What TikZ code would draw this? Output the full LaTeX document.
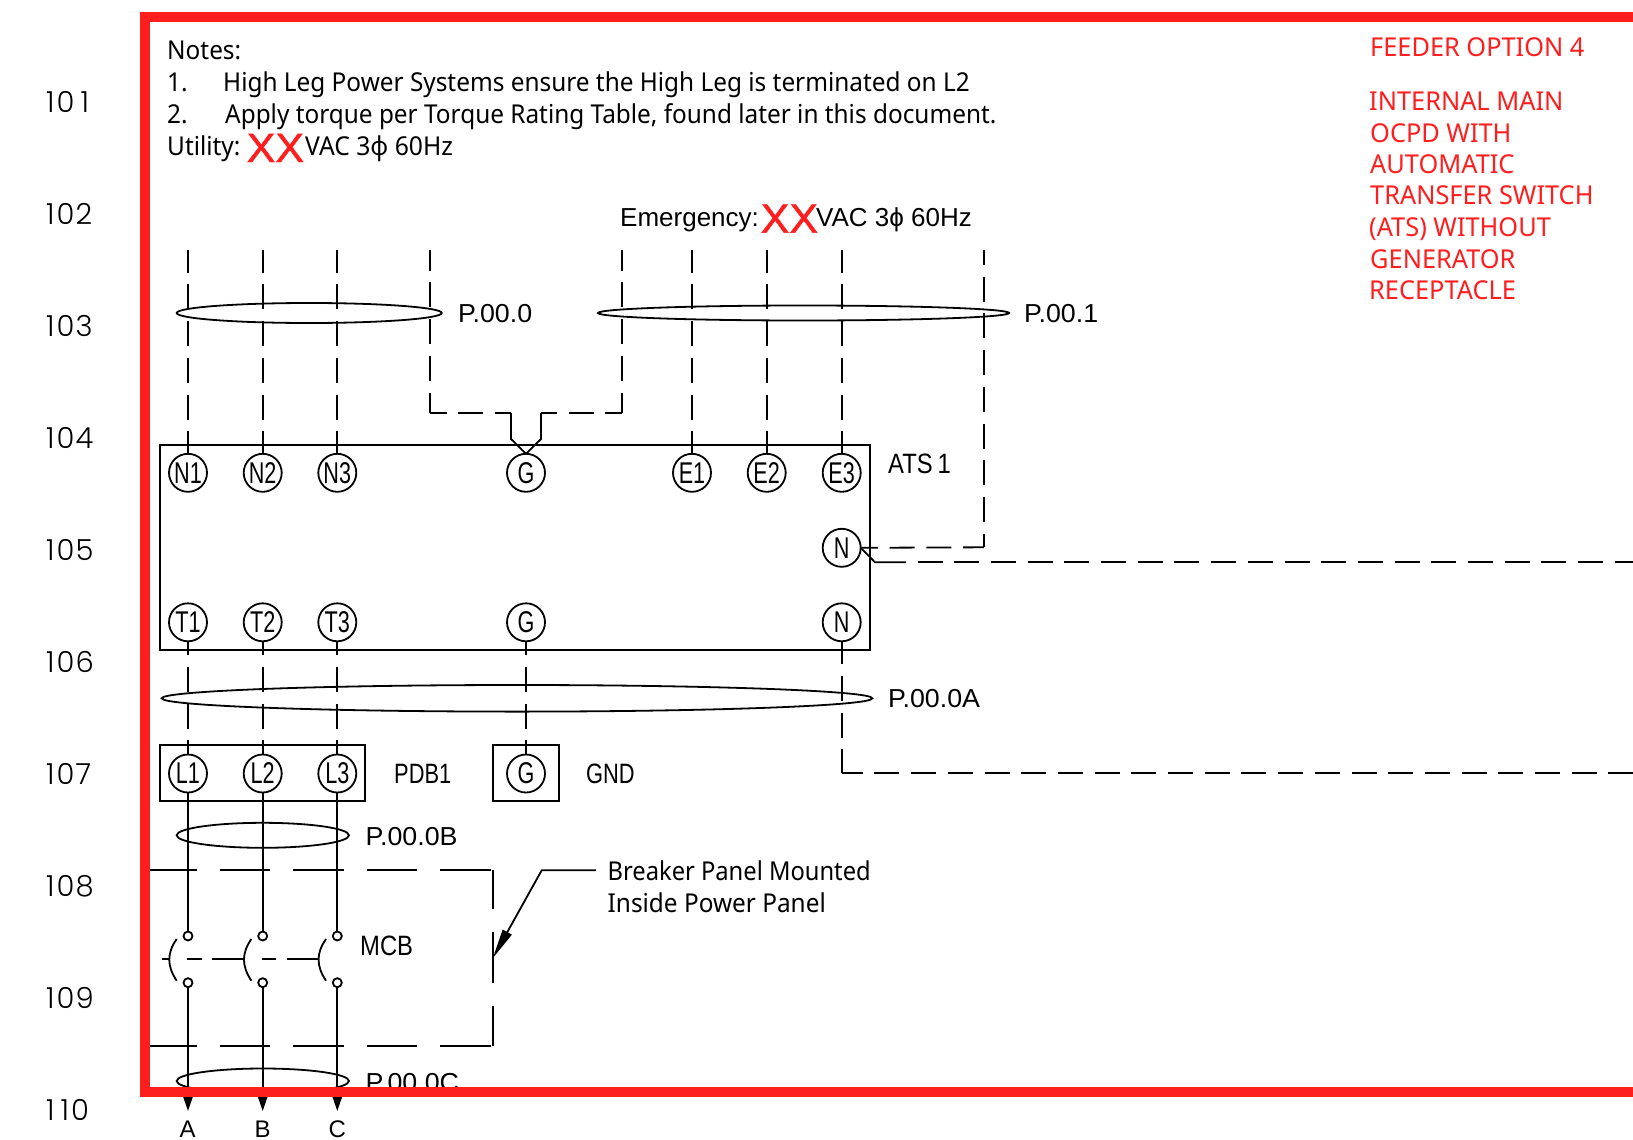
\documentclass[tikz,border=0pt]{standalone}
\usepackage{fontspec}
\usetikzlibrary{arrows.meta,shapes.geometric}
\setmainfont{Liberation Sans}
\newfontfamily\notefont[FakeStretch=0.937]{Noto Sans}
\newfontfamily\notenarrow[FakeStretch=0.912]{Noto Sans}
\newfontfamily\utilfont[FakeStretch=0.95]{Noto Sans}
\newfontfamily\capsfont[FakeStretch=0.975]{Noto Sans}
\newfontfamily\arialfont{Liberation Sans}
\newfontfamily\tagfont[FakeStretch=1.03]{Liberation Sans}
\newfontfamily\xfont[FakeStretch=1.05,FakeBold=1.2]{Liberation Sans}
\newfontfamily\cadfont[FakeStretch=0.72]{Liberation Sans}
\newfontfamily\cadmid[FakeStretch=0.78]{Liberation Sans}
\newfontfamily\cadwide[FakeStretch=0.85]{Liberation Sans}
\newfontfamily\rowfont{Poppins Light}
\definecolor{framered}{HTML}{FF1E1E}
\tikzset{
  x=1pt,y=-1pt,
  inkline/.style={line width=1.8pt,black,line cap=butt,line join=miter},
  wiredash/.style={inkline,dash pattern=on 25pt off 11.7pt},
  longdash/.style={inkline,dash pattern=on 50.5pt off 23pt},
  term/.style={circle,draw,line width=1.8pt,outer sep=0pt,minimum size=38pt,inner sep=0pt,font=\cadfont\fontsize{30}{30}\selectfont},
  contact/.style={circle,draw,fill=white,line width=1.8pt,outer sep=0pt,minimum size=9pt,inner sep=0pt},
  bundle/.style={ellipse,draw,line width=1.8pt,outer sep=0pt,inner sep=0pt,fill=none},
  encl/.style={rectangle,draw,line width=1.8pt,outer sep=0pt,inner sep=0pt,anchor=north west},
  notetext/.style={anchor=base west,inner sep=0pt,font=\notefont\fontsize{26}{30}\selectfont},
  brktext/.style={anchor=base west,inner sep=0pt,font=\notenarrow\fontsize{26}{30}\selectfont},
  utiltext/.style={anchor=base west,inner sep=0pt,font=\utilfont\fontsize{26}{30}\selectfont},
  redtext/.style={anchor=base west,inner sep=0pt,text=framered,font=\capsfont\fontsize{26}{30}\selectfont},
  emertext/.style={anchor=base west,inner sep=0pt,font=\arialfont\fontsize{26}{30}\selectfont},
  wiretag/.style={anchor=base west,inner sep=0pt,font=\tagfont\fontsize{26}{30}\selectfont},
  endlabel/.style={anchor=base west,inner sep=0pt,font=\arialfont\fontsize{24}{30}\selectfont},
  cadtag/.style={anchor=base west,inner sep=0pt,font=\cadmid\fontsize{28}{30}\selectfont},
  cadwidetag/.style={anchor=base west,inner sep=0pt,font=\cadwide\fontsize{28}{30}\selectfont},
  rowno/.style={anchor=base west,inner sep=0pt,font=\rowfont\fontsize{29}{30}\selectfont},
  xmark/.style={anchor=base west,inner sep=0pt,text=framered,font=\xfont\fontsize{41}{41}\selectfont},
  endtip/.style={-{Triangle[length=16pt,width=10.5pt]}},
  leadtip/.style={-{Triangle[length=30pt,width=10pt]}}
}
\begin{document}
\begin{tikzpicture}
\useasboundingbox (0,0) rectangle (1633,1140);
\fill[white] (0,0) rectangle (1633,1140);

% row numbers
\node[rowno] (row101) at (46,112.5) {1\kern2pt 0\kern6pt 1};
\node[rowno] (row102) at (46,224.3) {1\kern2pt 0\kern1pt 2};
\node[rowno] (row103) at (46,336) {1\kern2pt 0\kern1pt 3};
\node[rowno] (row104) at (46,448) {1\kern2pt 0\kern1pt 4};
\node[rowno] (row105) at (46,560) {1\kern2pt 0\kern1pt 5};
\node[rowno] (row106) at (46,672.5) {1\kern2pt 0\kern1pt 6};
\node[rowno] (row107) at (46,784.5) {1\kern2pt 0\kern1pt 7};
\node[rowno] (row108) at (46,896.5) {1\kern2pt 0\kern1pt 8};
\node[rowno] (row109) at (46,1008.5) {1\kern2pt 0\kern1pt 9};
\node[rowno] (row110) at (46,1120.5) {1\kern6pt 1\kern2pt 0};

% notes
\node[notetext] (notes) at (167,59.7) {Notes:};
\node[notetext] (n1no) at (167,91.7) {1.};
\node[notetext] (n1tx) at (223,91.7) {High Leg Power Systems ensure the High Leg is terminated on L2};
\node[notetext] (n2no) at (167,123.7) {2.};
\node[notetext] (n2tx) at (225,123.7) {Apply torque per Torque Rating Table, found later in this document.};
\node[notetext] (util) at (167,155.5) {Utility:};
\node[xmark] (utilx) at (246.5,162) {XX};
\node[utiltext] (utilv) at (305,155.5) {VAC 3ϕ 60Hz};

\node[emertext] (emer) at (620,226) {Emergency:};
\node[xmark] (emerx) at (760.5,232.7) {XX};
\node[emertext] (emerv) at (816,226) {VAC 3ϕ 60Hz};

% red notes
\node[redtext] (r0) at (1370,56.5) {FEEDER OPTION 4};
\node[redtext] (r1) at (1369,110.5) {INTERNAL MAIN};
\node[redtext] (r2) at (1370,142.2) {OCPD WITH};
\node[redtext] (r3) at (1370,173.2) {AUTOMATIC};
\node[redtext] (r4) at (1370,204.5) {TRANSFER SWITCH};
\node[redtext] (r5) at (1369,236.5) {(ATS) WITHOUT};
\node[redtext] (r6) at (1370,268.2) {GENERATOR};
\node[redtext] (r7) at (1369,299.8) {RECEPTACLE};

% enclosures
\node[encl,minimum width=709.7pt,minimum height=205.3pt] (ats) at (160,445) {};
\node[encl,minimum width=205.3pt,minimum height=56pt] (pdb) at (160,745) {};
\node[encl,minimum width=66pt,minimum height=56pt] (gnd) at (492.7,745) {};

% terminals
\node[term] (N1) at (188,472.8) {N1};
\node[term] (N2) at (262.7,472.8) {N2};
\node[term] (N3) at (337.3,472.8) {N3};
\node[term] (Gt) at (526,472.8) {G};
\node[term] (E1) at (692,472.8) {E1};
\node[term] (E2) at (766.7,472.8) {E2};
\node[term] (E3) at (841.7,472.8) {E3};
\node[term] (Nm) at (841.7,547.8) {N};
\node[term] (T1) at (188,622.3) {T1};
\node[term] (T2) at (262.7,622.3) {T2};
\node[term] (T3) at (337.3,622.3) {T3};
\node[term] (Gb) at (526,622.3) {G};
\node[term] (Nb) at (841.7,622.3) {N};
\node[term] (L1) at (188,773.5) {L1};
\node[term] (L2) at (262.7,773.5) {L2};
\node[term] (L3) at (337.3,773.5) {L3};
\node[term] (Gg) at (526,773.5) {G};

% free wire ends
\foreach \n/\xx in {a/188,b/262.7,c/337.3,d/430,f/622,g/692,h/766.7,i/841.7}
  \coordinate (top\n) at (\xx,250);
\coordinate (top5) at (984,250);
\coordinate (cd) at (430,413);
\coordinate (cf) at (622,413);
\coordinate (vl) at (511,413);
\coordinate (vr) at (541,413);
\coordinate (vl2) at (511,439);
\coordinate (vr2) at (541,439);
\coordinate (c5) at (984,547.3);
\coordinate (ntk) at (875,562.3);
\coordinate (nts) at (906,562.3);
\coordinate (ntr) at (1640,562.3);
\coordinate (lnc) at (841.7,773.3);
\coordinate (lnr) at (1640,773.3);

% supply wires
\foreach \n/\t in {a/N1,b/N2,c/N3,g/E1,h/E2,i/E3}
  \draw[wiredash,dash phase=2.3pt] (top\n) -- (\t);
\draw[wiredash,dash phase=4.3pt] (topd) -- (cd);
\draw[wiredash,dash phase=4.3pt] (topf) -- (cf);
\draw[wiredash,dash phase=8.3pt] (cd) -- (vl);
\draw[wiredash,dash phase=8.3pt] (cf) -- (vr);
\draw[inkline] (vl) -- (vl2) -- (Gt.north);
\draw[inkline] (vr) -- (vr2) -- (Gt.north);
\draw[wiredash,dash phase=10pt] (top5) -- (c5);
\draw[wiredash,dash phase=4pt] (c5) -- (Nm.east);
\draw[inkline] (Nm.east) -- (ntk) -- (nts);
\draw[wiredash] (nts) ++(11.5,0) -- (ntr);

% ATS to PDB
\foreach \a/\b in {T1/L1,T2/L2,T3/L3,Gb/Gg}
  \draw[wiredash,dash phase=11pt] (\a) -- (\b);
\draw[wiredash,dash phase=2pt] (Nb) -- (lnc);
\draw[wiredash,dash phase=4pt] (lnc) -- (lnr);

% breaker contacts
\foreach \i/\xx in {1/188,2/262.7,3/337.3}{
  \node[contact] (ct\i) at (\xx,936) {};
  \node[contact] (cb\i) at (\xx,982.7) {};
  \coordinate (end\i) at (\xx,1111);
  \draw[inkline] (L\i) -- (ct\i);
  \draw[inkline,endtip] (cb\i) -- (end\i);
  \draw[inkline] (\xx-11.3,939) .. controls (\xx-21.2,953) and (\xx-21.2,966) .. (\xx-11.3,980.7);
}
\coordinate (tk1) at (161.7,959.3);
\coordinate (tk2) at (170,959.3);
\coordinate (tk3) at (187.3,959.3);
\coordinate (tk4) at (318,959.3);
\draw[inkline] (tk1) -- (tk2);
\draw[inkline,dash pattern=on 14.4pt off 10.6pt on 30.7pt off 18.9pt] (tk3) -- (tk4);

% bundles
\node[bundle,minimum width=265pt,minimum height=20pt] (p0) at (309.2,313) {};
\node[bundle,minimum width=411pt,minimum height=15pt] (p1) at (803.5,313) {};
\node[bundle,minimum width=710.6pt,minimum height=26.6pt] (p0a) at (517,698.3) {};
\node[bundle,minimum width=172.3pt,minimum height=25pt] (p0b) at (262.8,835.3) {};
\node[bundle,minimum width=172.3pt,minimum height=25pt] (p0c) at (262.8,1081) {};

% labels
\node[wiretag] (lp0) at (458,322) {P.00.0};
\node[wiretag] (lp1) at (1024,322) {P.00.1};
\node[wiretag] (lp0a) at (888,707) {P.00.0A};
\node[wiretag] (lp0b) at (365.5,845) {P.00.0B};
\node[wiretag] (lp0c) at (365.5,1091) {P.00.0C};
\node[cadwidetag] (ats1) at (888,473) {ATS\kern5pt 1};
\node[cadtag] (pdb1) at (394,783) {PDB1};
\node[cadtag] (gndl) at (586,783) {GND};
\node[cadwidetag] (mcb) at (360,955) {MCB};
\node[endlabel] (la) at (179.5,1137.5) {A};
\node[endlabel] (lb) at (254.5,1137.5) {B};
\node[endlabel] (lc) at (328.5,1137.5) {C};

% breaker enclosure
\coordinate (bl1) at (150,870.3);
\coordinate (bl2) at (492.7,870.3);
\coordinate (bl3) at (492.7,1045.7);
\coordinate (bl4) at (150,1045.7);
\draw[longdash,dash phase=3.8pt] (bl1) -- (bl2);
\draw[longdash,dash phase=11.5pt] (bl2) -- (bl3);
\draw[longdash,dash phase=3.8pt] (bl4) -- (bl3);

% leader
\coordinate (ld1) at (596,870.3);
\coordinate (ld2) at (541.7,870.3);
\coordinate (ld3) at (492.7,958.3);
\draw[inkline,leadtip] (ld1) -- (ld2) -- (ld3);
\node[brktext] (brk1) at (607.5,880.3) {Breaker Panel Mounted};
\node[notetext] (brk2) at (607.5,912) {Inside Power Panel};

% red frame
\draw[framered,line width=10pt,line join=miter] (1640,17) -- (145,17) -- (145,1092) -- (1640,1092);
\end{tikzpicture}
\end{document}
